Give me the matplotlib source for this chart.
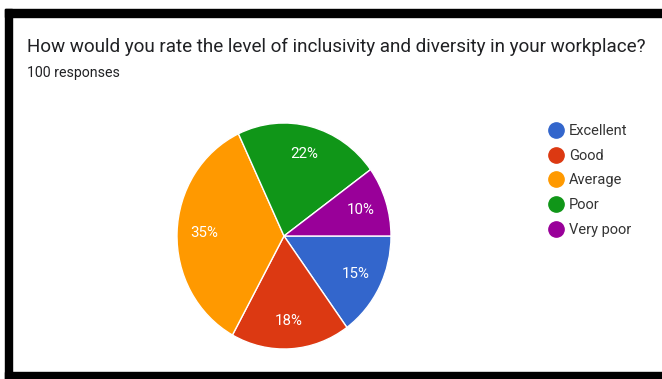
import matplotlib.pyplot as plt
from matplotlib.lines import Line2D
from matplotlib.patches import Rectangle

plt.rcParams["font.family"] = ["Roboto", "DejaVu Sans"]

labels = ["Excellent", "Good", "Average", "Poor", "Very poor"]
shares = [15, 18, 35, 22, 10]
colors = ["#3366cc", "#dc3912", "#ff9900", "#109618", "#990099"]

W, H = 662, 379
fig = plt.figure(figsize=(W / 100, H / 100), dpi=100)


def box(x0, y0, x1, y1):
    # pixel box (top-left origin) -> figure fraction
    return (x0 / W, 1 - y1 / H), (x1 - x0) / W, (y1 - y0) / H


# black frame around the card
for x0, y0, x1, y1 in [(5, 9, 662, 17), (5, 9, 12, 379), (5, 372, 662, 379)]:
    xy, w, h = box(x0, y0, x1, y1)
    fig.patches.append(Rectangle(xy, w, h, transform=fig.transFigure,
                                 color="black", zorder=0))

fig.text(27 / W, 1 - 47 / H,
         "How would you rate the level of inclusivity and diversity in your workplace?",
         fontsize=13.6, color="#202124", va="center", ha="left")
fig.text(27 / W, 1 - 73 / H, "100 responses", fontsize=10.2,
         color="#202124", va="center", ha="left")

# pie sits in its own axes, slightly taller than wide
(l, b), w, h = box(177, 123, 391, 349)
ax = fig.add_axes([l, b, w, h])
wedges, texts, autotexts = ax.pie(
    shares, colors=colors, startangle=0, counterclock=False,
    autopct="%d%%", pctdistance=0.75,
    wedgeprops={"edgecolor": "white", "linewidth": 1},
    textprops={"color": "white", "fontsize": 10.8})
ax.set_aspect("auto")
ax.set_xlim(-1, 1)
ax.set_ylim(-1, 1)

handles = [Line2D([], [], marker="o", linestyle="", markersize=11,
                  markerfacecolor=c, markeredgecolor=c) for c in colors]
fig.legend(handles, labels, loc="upper left",
           bbox_to_anchor=(542 / W, 1 - 118 / H), frameon=False,
           fontsize=10.5, labelcolor="#333333", handletextpad=0.35,
           labelspacing=0.74, handlelength=1.1, borderaxespad=0)

fig.savefig("out.png", dpi=100, facecolor="white")
